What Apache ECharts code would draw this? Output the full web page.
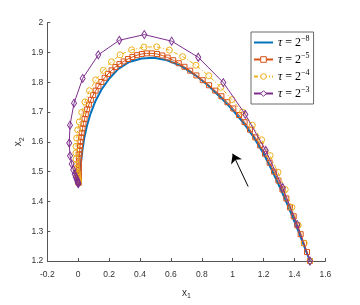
<!DOCTYPE html>
<html>
<head>
<meta charset="utf-8">
<script src="https://cdn.jsdelivr.net/npm/echarts@6/dist/echarts.min.js"></script>
<style>
html,body{margin:0;padding:0;background:#fff;}
#chart{width:360px;height:305px;}
</style>
</head>
<body>
<div id="chart"></div>
<script>
// ---- data ----
var seriesNames = ['tau8', 'tau5', 'tau4', 'tau3'];
var tauExponents = ['\u22128', '\u22125', '\u22124', '\u22123'];
var seriesColors = ['#0072BD', '#D95319', '#EDB120', '#7E2F8E'];

var xTicks = { min: -0.2, max: 1.6, interval: 0.2 };
var yTicks = { min: 1.2, max: 2.0, interval: 0.1 };

// tau = 2^-8 (solid line, no markers)
var tau8 = [[1.5,1.2],[1.455,1.26],[1.410,1.32],[1.362,1.38],[1.312,1.44],[1.258,1.50],[1.200,1.56],[1.137,1.615],[1.068,1.665],[0.995,1.71],[0.92,1.75],[0.84,1.79],[0.755,1.825],[0.665,1.855],[0.575,1.874],[0.49,1.882],[0.41,1.880],[0.33,1.868],[0.26,1.845],[0.20,1.812],[0.15,1.775],[0.11,1.735],[0.08,1.695],[0.057,1.655],[0.04,1.615],[0.028,1.575],[0.019,1.535],[0.013,1.50],[0.009,1.478],[0.007,1.462]];

// tau = 2^-5 (squares)
var tau5 = [[1.5,1.2],[1.481,1.23],[1.461,1.26],[1.440,1.29],[1.418,1.32],[1.395,1.35],[1.371,1.38],[1.347,1.41],[1.322,1.44],[1.296,1.47],[1.268,1.50],[1.239,1.53],[1.209,1.56],[1.178,1.588],[1.146,1.615],[1.112,1.641],[1.077,1.666],[1.041,1.690],[1.004,1.712],[0.966,1.733],[0.927,1.753],[0.887,1.772],[0.847,1.790],[0.806,1.807],[0.765,1.823],[0.725,1.839],[0.688,1.852],[0.651,1.864],[0.615,1.874],[0.579,1.883],[0.544,1.890],[0.510,1.895],[0.477,1.897],[0.444,1.897],[0.412,1.895],[0.381,1.891],[0.351,1.885],[0.322,1.878],[0.294,1.870],[0.267,1.861],[0.241,1.851],[0.216,1.840],[0.193,1.828],[0.171,1.815],[0.150,1.801],[0.131,1.787],[0.113,1.772],[0.097,1.757],[0.082,1.741],[0.069,1.725],[0.058,1.709],[0.049,1.693],[0.041,1.677],[0.034,1.661],[0.028,1.645],[0.023,1.630],[0.019,1.615],[0.015,1.600],[0.012,1.586],[0.010,1.572],[0.008,1.559],[0.006,1.547],[0.005,1.535],[0.004,1.524],[0.004,1.514],[0.003,1.505],[0.003,1.497],[0.003,1.490],[0.003,1.484],[0.003,1.478],[0.003,1.474],[0.003,1.470],[0.003,1.467],[0.003,1.464],[0.003,1.462]];

// tau = 2^-4 (circles, dash-dot)
var tau4 = [[1.5,1.2],[1.463,1.26],[1.424,1.32],[1.383,1.38],[1.340,1.44],[1.293,1.498],[1.242,1.554],[1.187,1.607],[1.127,1.656],[1.063,1.700],[0.995,1.742],[0.923,1.783],[0.845,1.822],[0.762,1.857],[0.676,1.886],[0.590,1.908],[0.508,1.919],[0.426,1.918],[0.346,1.909],[0.271,1.892],[0.215,1.869],[0.163,1.840],[0.113,1.808],[0.073,1.772],[0.044,1.734],[0.023,1.699],[0.007,1.667],[-0.003,1.640],[-0.010,1.612],[-0.014,1.585],[-0.015,1.562],[-0.014,1.542],[-0.012,1.525],[-0.009,1.511],[-0.006,1.499],[-0.004,1.490],[-0.002,1.482],[-0.001,1.476],[0.000,1.471],[0.001,1.467],[0.001,1.464],[0.001,1.462]];

// tau = 2^-3 (diamonds)
var tau3 = [[1.5,1.2],[1.418,1.322],[1.324,1.446],[1.214,1.571],[1.082,1.692],[0.939,1.799],[0.777,1.884],[0.605,1.938],[0.428,1.960],[0.266,1.941],[0.130,1.892],[0.029,1.813],[-0.027,1.730],[-0.053,1.656],[-0.058,1.596],[-0.053,1.553],[-0.042,1.526],[-0.032,1.506],[-0.023,1.492],[-0.016,1.482],[-0.010,1.475],[-0.006,1.470],[-0.003,1.466],[-0.001,1.463],[0.000,1.461],[0.001,1.460]];

// arrow (tail -> head), data coordinates
var arrowTail = [1.1, 1.45];
var arrowHead = [1.0, 1.56];

// ---- chart ----
var chart = echarts.init(document.getElementById('chart'), null, { renderer: 'canvas' });
var axisColor = '#555';
var sans = 'Liberation Sans, Arial, sans-serif';
var labelStyle = { color: '#333', fontSize: 8.5, fontFamily: sans };
var serif = 'Liberation Serif, DejaVu Serif, serif';

var legendLabel = {};
seriesNames.forEach(function (n, i) { legendLabel[n] = '{t|\u03c4}{e| = 2}{s|' + tauExponents[i] + '}'; });

var legendData = seriesNames.map(function (n, i) {
  if (i === 0) return { name: n, itemStyle: { opacity: 0 } };
  return { name: n, itemStyle: { color: '#fff', borderColor: seriesColors[i], borderWidth: 1 } };
});

var nameRich = {
  a: { fontSize: 10, color: '#333', fontFamily: sans },
  b: { fontSize: 7, color: '#333', padding: [7, 0, 0, 0], fontFamily: sans }
};

var option = {
  animation: false,
  backgroundColor: '#fff',
  grid: { left: 47.3, right: 34.6, top: 22.7, bottom: 36.7, containLabel: false },
  xAxis: {
    type: 'value', min: xTicks.min, max: xTicks.max, interval: xTicks.interval,
    name: '{a|x}{b|1}', nameLocation: 'middle', nameGap: 25, nameMoveOverlap: false,
    nameTextStyle: { rich: nameRich },
    axisLine: { show: true, onZero: false, lineStyle: { color: axisColor, width: 1 } },
    axisTick: { show: true, inside: true, length: 3, lineStyle: { color: axisColor } },
    axisLabel: Object.assign({ margin: 9 }, labelStyle),
    splitLine: { show: false }
  },
  yAxis: {
    type: 'value', min: yTicks.min, max: yTicks.max, interval: yTicks.interval,
    name: '{a|x}{b|2}', nameLocation: 'middle', nameGap: 22, nameRotate: 90, nameMoveOverlap: false,
    nameTextStyle: { rich: nameRich },
    axisLine: { show: true, onZero: false, lineStyle: { color: axisColor, width: 1 } },
    axisTick: { show: true, inside: true, length: 3, lineStyle: { color: axisColor } },
    axisLabel: Object.assign({ margin: 4 }, labelStyle),
    splitLine: { show: false }
  },
  legend: {
    data: legendData,
    orient: 'vertical', left: 251, top: 32,
    itemWidth: 19, itemHeight: 7, itemGap: 2,
    padding: [3, 4, 3, 2],
    backgroundColor: '#fff', borderColor: '#444', borderWidth: 0.8,
    formatter: function (name) { return legendLabel[name]; },
    textStyle: {
      rich: {
        t: { fontSize: 12, fontStyle: 'italic', fontFamily: serif, color: '#000', lineHeight: 14 },
        e: { fontSize: 12, fontFamily: serif, color: '#000', lineHeight: 14 },
        s: { fontSize: 8, fontFamily: serif, color: '#000', padding: [0, 0, 7, 0], lineHeight: 14 }
      }
    }
  },
  series: [
    {
      name: seriesNames[0], type: 'line', data: tau8, showSymbol: false, symbol: 'none',
      lineStyle: { color: seriesColors[0], width: 2 }, itemStyle: { color: seriesColors[0] },
      z: 2, silent: true,
      markLine: {
        silent: true, symbol: ['none', 'arrow'], symbolSize: 9,
        label: { show: false },
        lineStyle: { color: '#000', width: 1, type: 'solid' },
        data: [[{ coord: arrowTail }, { coord: arrowHead }]]
      }
    },
    {
      name: seriesNames[1], type: 'line', data: tau5, symbol: 'rect', symbolSize: 5, showAllSymbol: true,
      lineStyle: { color: seriesColors[1], width: 1 },
      itemStyle: { color: 'rgba(255,255,255,0)', borderColor: seriesColors[1], borderWidth: 1 },
      z: 3, silent: true
    },
    {
      name: seriesNames[2], type: 'line', data: tau4, symbol: 'circle', symbolSize: 6, showAllSymbol: true,
      lineStyle: { color: seriesColors[2], width: 1, type: [4, 2, 1, 2] },
      itemStyle: { color: 'rgba(255,255,255,0)', borderColor: seriesColors[2], borderWidth: 1 },
      z: 4, silent: true
    },
    {
      name: seriesNames[3], type: 'line', data: tau3, symbol: 'diamond', symbolSize: [5, 8], showAllSymbol: true,
      lineStyle: { color: seriesColors[3], width: 1 },
      itemStyle: { color: 'rgba(255,255,255,0)', borderColor: seriesColors[3], borderWidth: 1 },
      z: 5, silent: true
    }
  ]
};
chart.setOption(option);
</script>
</body>
</html>
